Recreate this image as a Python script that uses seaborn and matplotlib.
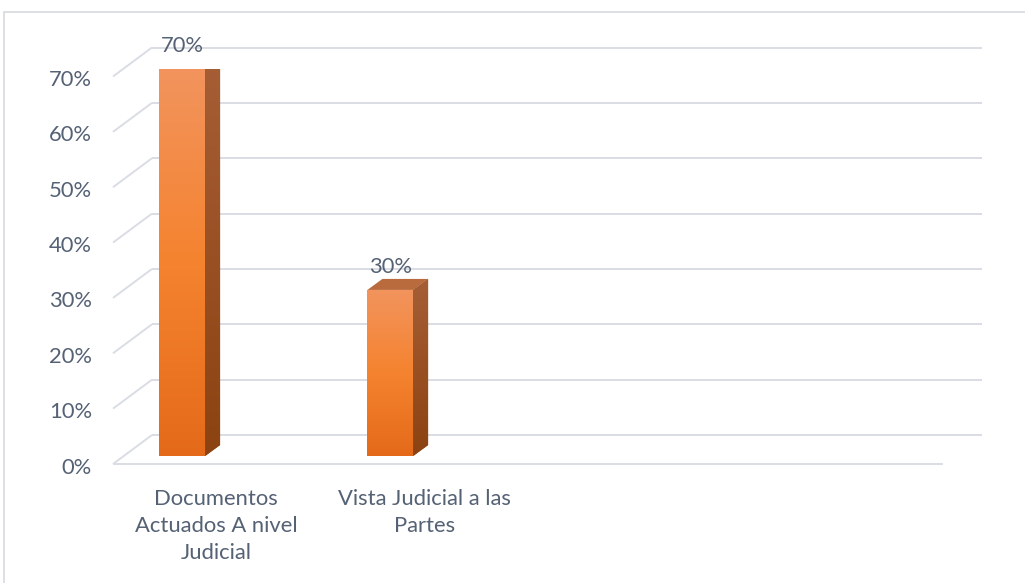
import numpy as np
import matplotlib
matplotlib.use("Agg")
import matplotlib.pyplot as plt
import matplotlib.transforms as mtransforms
from matplotlib.colors import LinearSegmentedColormap
from matplotlib.patches import Polygon, Rectangle
import seaborn as sns

# ---- data -------------------------------------------------------------
categories = ["Documentos\nActuados A nivel\nJudicial", "Vista Judicial a las\nPartes"]
values = [70, 30]
value_labels = ["70%", "30%"]
y_ticks = [0, 10, 20, 30, 40, 50, 60, 70]
y_tick_labels = ["0%", "10%", "20%", "30%", "40%", "50%", "60%", "70%"]

# ---- style ------------------------------------------------------------
sns.set_style("white")
plt.rcParams["font.family"] = ["Lato", "DejaVu Sans"]

TEXT_C = "#556174"
GRID_C = "#DADDE4"
FRONT_COLORS = ["#F2945E", "#F5832F", "#E46A19"]
SIDE_COLORS = ["#A65E36", "#8C4311"]
TOP_C = "#B96B3E"
FONT_SIZE = 15.8

W, H, DPI = 1025, 583, 100
fig = plt.figure(figsize=(W / DPI, H / DPI), dpi=DPI)
fig.patch.set_facecolor("white")

# axes = the plane through the columns (pixel box measured from top-left)
ax = fig.add_axes([124 / W, 1 - 456 / H, 830 / W, (456 - 68.5) / H])
sns.barplot(x=categories, y=values, width=0.22, color=FRONT_COLORS[1],
            saturation=1, ax=ax, zorder=3, linewidth=0)
ax.set_xlim(-0.28, 3.71)
ax.set_ylim(0, 70)
ax.axis("off")

# pixel -> data conversion factors
p0 = ax.transData.transform((0, 0))
p1 = ax.transData.transform((1, 1))
PXX = p1[0] - p0[0]
PXY = p1[1] - p0[1]


def dxy(dx_px, dy_px):
    return dx_px / PXX, dy_px / PXY


x0, x1 = ax.get_xlim()
FRONT = dxy(-11, -8)   # front edge of the floor / left wall
BACK = dxy(28, 21)     # back wall
DEPTH = dxy(15, 11)    # column depth

# ---- 3D frame: back wall gridlines, left wall diagonals, floor ---------
for v in y_ticks:
    ax.plot([x0 + BACK[0], x1 + BACK[0]], [v + BACK[1], v + BACK[1]],
            color=GRID_C, lw=1.4, clip_on=False, zorder=1, solid_capstyle="butt")
    ax.plot([x0 + FRONT[0], x0 + BACK[0]], [v + FRONT[1], v + BACK[1]],
            color=GRID_C, lw=1.4, clip_on=False, zorder=1, solid_capstyle="butt")
ax.plot([x0 + FRONT[0], x1 + FRONT[0]], [FRONT[1], FRONT[1]],
        color=GRID_C, lw=1.4, clip_on=False, zorder=1, solid_capstyle="butt")

# ---- shaded columns ---------------------------------------------------
front_cmap = LinearSegmentedColormap.from_list("front", FRONT_COLORS)
side_cmap = LinearSegmentedColormap.from_list("side", SIDE_COLORS)
grad = np.linspace(0, 1, 256).reshape(-1, 1)

for patch in list(ax.patches):
    bb = patch.get_bbox()
    xa, xb, ya, yb = bb.x0, bb.x1, bb.y0, bb.y1
    im = ax.imshow(grad, cmap=front_cmap, extent=(xa, xb, ya, yb),
                   aspect="auto", origin="upper", zorder=3.1, interpolation="bilinear")
    im.set_clip_path(patch)

    side = Polygon([(xb, ya), (xb, yb), (xb + DEPTH[0], yb + DEPTH[1]),
                    (xb + DEPTH[0], ya + DEPTH[1])], closed=True,
                   facecolor=SIDE_COLORS[1], edgecolor="none", zorder=3)
    ax.add_patch(side)
    ims = ax.imshow(grad, cmap=side_cmap,
                    extent=(xb, xb + DEPTH[0], ya, yb + DEPTH[1]),
                    aspect="auto", origin="upper", zorder=3.1, interpolation="bilinear")
    ims.set_clip_path(side)

    top = Polygon([(xa, yb), (xb, yb), (xb + DEPTH[0], yb + DEPTH[1]),
                   (xa + DEPTH[0], yb + DEPTH[1])], closed=True,
                  facecolor=TOP_C, edgecolor="none", zorder=3.2)
    ax.add_patch(top)

ax.set_xlim(x0, x1)
ax.set_ylim(0, 70)

# ---- value labels -----------------------------------------------------
for i, (v, lbl) in enumerate(zip(values, value_labels)):
    ax.annotate(lbl, (i, v), xytext=(0, 23), textcoords="offset pixels",
                ha="center", va="center", fontsize=FONT_SIZE, color=TEXT_C, zorder=5)

# ---- axis labels ------------------------------------------------------
ytxt = ax.transData + mtransforms.ScaledTranslation(-32 / DPI, -11.5 / DPI, fig.dpi_scale_trans)
for v, lbl in zip(y_ticks, y_tick_labels):
    ax.text(x0, v, lbl, transform=ytxt, ha="right", va="center",
            fontsize=FONT_SIZE, color=TEXT_C)

xtxt = ax.transData + mtransforms.ScaledTranslation(34 / DPI, -33 / DPI, fig.dpi_scale_trans)
for i, cat in enumerate(categories):
    ax.text(i, 0, cat, transform=xtxt, ha="center", va="top",
            fontsize=FONT_SIZE, color=TEXT_C, linespacing=1.45)

# chart area outline
fig.add_artist(Rectangle((4 / W, -0.1), 1.2, 1 - 12.5 / H + 0.1,
                         transform=fig.transFigure, fill=False,
                         edgecolor="#D9DCE1", lw=1.3))

fig.savefig("out.png", dpi=DPI, facecolor="white")
